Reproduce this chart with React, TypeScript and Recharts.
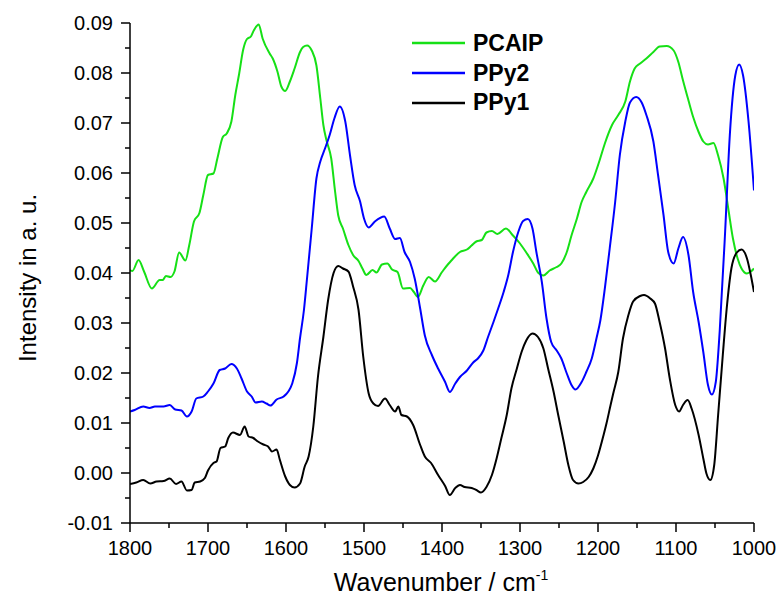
import { LineChart, Line, XAxis, YAxis, Legend, Label } from 'recharts';

// Spectra (wavenumber in cm-1, intensity in a. u.)
const pcaipWn = [
  1800, 1797, 1789, 1782, 1772, 1762, 1758, 1754, 1748, 1743, 1737, 1729, 1724, 1718, 1711, 1706,
  1700, 1693, 1688, 1681, 1676, 1670, 1665, 1660, 1655, 1650, 1645, 1641, 1635, 1630, 1621, 1617,
  1611, 1606, 1601, 1595, 1589, 1582, 1578, 1573, 1567, 1561, 1556, 1552, 1548, 1542, 1537, 1533,
  1527, 1520, 1514, 1507, 1502, 1497, 1489, 1484, 1477, 1470, 1464, 1457, 1450, 1441, 1436, 1431,
  1424, 1417, 1409, 1400, 1392, 1388, 1377, 1368, 1362, 1356, 1349, 1343, 1336, 1329, 1318, 1309,
  1300, 1292, 1283, 1277, 1270, 1262, 1253, 1247, 1240, 1234, 1227, 1221, 1215, 1206, 1198, 1191,
  1182, 1174, 1165, 1159, 1153, 1146, 1138, 1129, 1121, 1112, 1103, 1097, 1091, 1084, 1078, 1071,
  1065, 1059, 1052, 1046, 1039, 1033, 1027, 1021, 1016, 1009, 1004, 1000,
];
const pcaipVal = [
  0.0406, 0.0404, 0.0426, 0.0403, 0.0369, 0.0386, 0.0386, 0.0394, 0.0392, 0.0403, 0.0441, 0.0425, 0.0456, 0.0503, 0.052, 0.0556,
  0.0596, 0.0599, 0.0629, 0.0672, 0.0679, 0.0703, 0.0756, 0.0799, 0.0846, 0.0868, 0.0873, 0.0886, 0.0897, 0.0869, 0.0839, 0.0829,
  0.0803, 0.0773, 0.0764, 0.0783, 0.0809, 0.0842, 0.0852, 0.0855, 0.0845, 0.0815, 0.0749, 0.0695, 0.0665, 0.0629, 0.0562, 0.0515,
  0.0489, 0.0456, 0.0436, 0.0424, 0.0409, 0.0396, 0.0406, 0.0401, 0.0417, 0.0419, 0.0407, 0.0402, 0.0369, 0.037, 0.0362, 0.0352,
  0.0375, 0.0392, 0.0383, 0.0402, 0.0418, 0.0425, 0.0442, 0.0447, 0.0455, 0.0463, 0.0466, 0.0481, 0.0484, 0.0478, 0.0489, 0.0475,
  0.0459, 0.0441, 0.0419, 0.0401, 0.0395, 0.0405, 0.0412, 0.0419, 0.0442, 0.0475, 0.0509, 0.0542, 0.0562, 0.0589, 0.0625, 0.066,
  0.0696, 0.0716, 0.0743, 0.0783, 0.0809, 0.0819, 0.0829, 0.0842, 0.0853, 0.0854, 0.0845, 0.0822, 0.0785, 0.0745, 0.0712, 0.0682,
  0.0663, 0.0657, 0.066, 0.0635, 0.0589, 0.0529, 0.0469, 0.0429, 0.0409, 0.0399, 0.0403, 0.0409,
];

const ppy2Wn = [
  1800, 1794, 1783, 1775, 1768, 1757, 1749, 1742, 1734, 1727, 1721, 1715, 1706, 1700, 1693, 1685,
  1678, 1670, 1663, 1657, 1650, 1644, 1639, 1631, 1625, 1620, 1612, 1603, 1597, 1592, 1586, 1582,
  1577, 1573, 1567, 1561, 1556, 1550, 1544, 1538, 1531, 1524, 1518, 1512, 1505, 1500, 1494, 1486,
  1474, 1467, 1460, 1454, 1448, 1441, 1435, 1428, 1422, 1413, 1405, 1396, 1390, 1383, 1377, 1368,
  1360, 1354, 1347, 1341, 1334, 1328, 1321, 1315, 1309, 1302, 1296, 1290, 1284, 1279, 1272, 1266,
  1260, 1253, 1247, 1240, 1234, 1229, 1221, 1215, 1208, 1202, 1197, 1191, 1185, 1178, 1172, 1165,
  1159, 1151, 1144, 1138, 1129, 1123, 1116, 1110, 1103, 1097, 1091, 1084, 1078, 1071, 1065, 1059,
  1054, 1049, 1044, 1037, 1031, 1024, 1019, 1014, 1007, 1000,
];
const ppy2Val = [
  0.0123, 0.0126, 0.0133, 0.013, 0.0133, 0.0133, 0.0136, 0.0127, 0.0125, 0.0113, 0.0123, 0.0149, 0.0153, 0.0163, 0.0179, 0.0206,
  0.0209, 0.0218, 0.0209, 0.0189, 0.0163, 0.0153, 0.0141, 0.0143, 0.0139, 0.0135, 0.0147, 0.0153, 0.0163, 0.0179, 0.022, 0.027,
  0.0326, 0.039, 0.0489, 0.0589, 0.0623, 0.0649, 0.0676, 0.0709, 0.0733, 0.0703, 0.0636, 0.0576, 0.0543, 0.0509, 0.0491, 0.0503,
  0.0513, 0.0489, 0.0468, 0.047, 0.0442, 0.0422, 0.0389, 0.0329, 0.0275, 0.0236, 0.0209, 0.0182, 0.0162, 0.0179, 0.0192, 0.0205,
  0.0221, 0.0229, 0.0245, 0.0272, 0.0302, 0.0329, 0.0362, 0.0396, 0.0442, 0.0483, 0.0504, 0.0508, 0.0489, 0.0442, 0.0382, 0.0309,
  0.0262, 0.0245, 0.0229, 0.0199, 0.0176, 0.0167, 0.0182, 0.0202, 0.0229, 0.0269, 0.0305, 0.0372, 0.0449, 0.0542, 0.0636, 0.0703,
  0.0741, 0.0752, 0.0741, 0.0716, 0.0663, 0.0596, 0.0516, 0.0442, 0.0419, 0.0449, 0.0472, 0.0436, 0.0362, 0.0302, 0.0242, 0.0176,
  0.0157, 0.0182, 0.0283, 0.0483, 0.0676, 0.0795, 0.0817, 0.0795, 0.0703, 0.0565,
];

const ppy1Wn = [
  1800, 1792, 1783, 1774, 1766, 1757, 1749, 1741, 1734, 1727, 1721, 1717, 1710, 1704, 1700, 1693,
  1689, 1684, 1678, 1674, 1668, 1659, 1653, 1648, 1642, 1636, 1629, 1623, 1618, 1612, 1608, 1601,
  1595, 1589, 1582, 1576, 1571, 1565, 1559, 1552, 1546, 1539, 1533, 1527, 1520, 1514, 1507, 1501,
  1494, 1488, 1482, 1473, 1467, 1460, 1456, 1452, 1445, 1437, 1428, 1422, 1414, 1405, 1396, 1390,
  1383, 1377, 1371, 1362, 1356, 1350, 1343, 1336, 1330, 1324, 1317, 1311, 1304, 1298, 1292, 1284,
  1277, 1270, 1264, 1257, 1251, 1244, 1238, 1232, 1225, 1219, 1212, 1206, 1200, 1193, 1189, 1184,
  1180, 1174, 1168, 1161, 1155, 1146, 1141, 1133, 1127, 1121, 1114, 1108, 1101, 1096, 1091, 1085,
  1080, 1071, 1065, 1061, 1056, 1051, 1046, 1040, 1035, 1029, 1022, 1016, 1009, 1004, 1000,
];
const ppy1Val = [
  -0.0022, -0.0019, -0.0014, -0.0021, -0.0017, -0.0016, -0.0011, -0.0022, -0.0017, -0.0035, -0.0034, -0.0019, -0.0017, -0.001, 0.0005, 0.002,
  0.0023, 0.005, 0.0053, 0.007, 0.0081, 0.0076, 0.0093, 0.0073, 0.007, 0.0063, 0.0057, 0.0053, 0.0043, 0.0047, 0.0027, -0.0007,
  -0.0024, -0.0029, -0.0021, 0.0013, 0.0033, 0.0093, 0.0193, 0.0273, 0.0346, 0.04, 0.0414, 0.0409, 0.0403, 0.0373, 0.0326, 0.0233,
  0.0159, 0.0139, 0.0134, 0.0149, 0.0136, 0.0123, 0.0133, 0.0116, 0.0113, 0.0096, 0.0056, 0.0033, 0.002, -0.0004, -0.0026, -0.0044,
  -0.003, -0.0024, -0.0028, -0.003, -0.0034, -0.0039, -0.0028, -0.0004, 0.0029, 0.0069, 0.0116, 0.0169, 0.0209, 0.0242, 0.0265, 0.0279,
  0.0272, 0.0249, 0.0209, 0.0163, 0.0116, 0.0063, 0.0016, -0.0014, -0.0021, -0.0018, -0.0008, 0.0009, 0.0035, 0.0075, 0.01, 0.0135,
  0.0162, 0.0202, 0.0269, 0.0316, 0.0343, 0.0354, 0.0356, 0.0349, 0.0339, 0.0302, 0.0249, 0.0189, 0.0136, 0.0123, 0.0136, 0.0146,
  0.0129, 0.0076, 0.0029, -0.0001, -0.0014, 0.0016, 0.0116, 0.0236, 0.0329, 0.0409, 0.0441, 0.0447, 0.0429, 0.0395, 0.0362,
];

const xTicks = [1800, 1750, 1700, 1650, 1600, 1550, 1500, 1450, 1400, 1350, 1300, 1250, 1200, 1150, 1100, 1050, 1000];
const yTicks = [
  -0.01, -0.005, 0, 0.005, 0.01, 0.015, 0.02, 0.025, 0.03, 0.035, 0.04, 0.045, 0.05,
  0.055, 0.06, 0.065, 0.07, 0.075, 0.08, 0.085, 0.09,
];

const FONT = '"Liberation Sans", Arial, sans-serif';

const series = [
  { name: 'PCAIP', color: '#16e016', data: pcaipWn.map((wn, i) => ({ wn, v: pcaipVal[i] })) },
  { name: 'PPy2', color: '#0000ff', data: ppy2Wn.map((wn, i) => ({ wn, v: ppy2Val[i] })) },
  { name: 'PPy1', color: '#000000', data: ppy1Wn.map((wn, i) => ({ wn, v: ppy1Val[i] })) },
];

// tickSize/tickMargin are 0, so x/y here sit right on the axis line
const XTick = ({ x, y, payload }: any) => {
  const major = Math.round(payload.value) % 100 === 0;
  return (
    <g>
      <line x1={x} x2={x} y1={y} y2={y + (major ? 9 : 5)} stroke="#000" strokeWidth={1.5} />
      {major && (
        <text x={x} y={y + 32} textAnchor="middle" fontSize={20} fontFamily={FONT} fill="#000">
          {payload.value}
        </text>
      )}
    </g>
  );
};

const YTick = ({ x, y, payload }: any) => {
  const v = payload.value;
  const major = Math.abs(v * 100 - Math.round(v * 100)) < 1e-6;
  return (
    <g>
      <line x1={x - (major ? 9 : 5)} x2={x} y1={y} y2={y} stroke="#000" strokeWidth={1.5} />
      {major && (
        <text x={x - 17} y={y} dy="0.35em" textAnchor="end" fontSize={20} fontFamily={FONT} fill="#000">
          {v.toFixed(2)}
        </text>
      )}
    </g>
  );
};

const renderLegend = () => (
  <div style={{ fontFamily: FONT, fontWeight: 'bold', fontSize: 23, color: '#000' }}>
    {series.map(s => (
      <div key={s.name} style={{ display: 'flex', alignItems: 'center', height: 29.7 }}>
        <svg width={53} height={4} style={{ display: 'block' }}>
          <line x1={0} x2={53} y1={2} y2={2} stroke={s.color} strokeWidth={2.5} />
        </svg>
        <span style={{ marginLeft: 8, lineHeight: 1 }}>{s.name}</span>
      </div>
    ))}
  </div>
);

export default function App() {
  return (
    <div style={{ position: 'absolute', left: 0, top: 0, background: '#fff' }}>
      <LineChart width={783} height={610} margin={{ top: 23, right: 29, bottom: 27, left: 0 }}>
        <XAxis
          type="number"
          dataKey="wn"
          domain={[1000, 1800]}
          reversed
          ticks={xTicks}
          interval={0}
          height={60}
          tickSize={0}
          tickMargin={0}
          tickLine={false}
          tick={<XTick />}
          axisLine={{ stroke: '#000', strokeWidth: 1.5 }}
          allowDataOverflow
        >
          <Label
            content={() => (
              <text x={441} y={591} textAnchor="middle" fontSize={25} fontFamily={FONT} fill="#000">
                Wavenumber / cm<tspan dy={-11} fontSize={14}>-1</tspan>
              </text>
            )}
          />
        </XAxis>
        <YAxis
          type="number"
          domain={[-0.01, 0.09]}
          ticks={yTicks}
          interval={0}
          width={130}
          tickSize={0}
          tickMargin={0}
          tickLine={false}
          tick={<YTick />}
          axisLine={{ stroke: '#000', strokeWidth: 1.5 }}
          allowDataOverflow
        >
          <Label
            content={() => (
              <text
                x={36}
                y={278}
                transform="rotate(-90, 36, 278)"
                textAnchor="middle"
                fontSize={24}
                fontFamily={FONT}
                fill="#000"
              >
                Intensity in a. u.
              </text>
            )}
          />
        </YAxis>
        {/* horizontal + middle keeps Recharts from reserving space for the legend */}
        <Legend
          content={renderLegend}
          layout="horizontal"
          verticalAlign="middle"
          align="center"
          wrapperStyle={{ top: 28.5, left: 412, width: 'auto' }}
        />
        {series.map(s => (
          <Line
            key={s.name}
            name={s.name}
            data={s.data}
            dataKey="v"
            type="monotone"
            stroke={s.color}
            strokeWidth={2}
            dot={false}
            activeDot={false}
            isAnimationActive={false}
          />
        ))}
      </LineChart>
    </div>
  );
}
